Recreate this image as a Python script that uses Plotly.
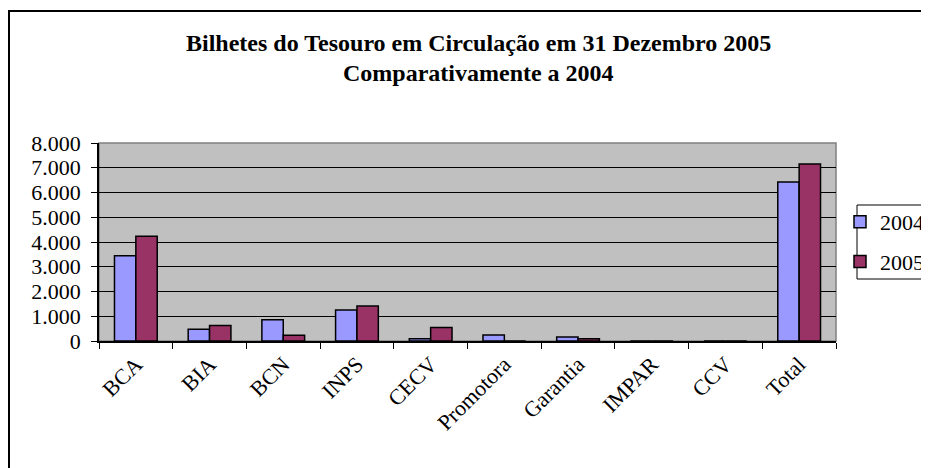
import plotly.graph_objects as go

categories = ["BCA", "BIA", "BCN", "INPS", "CECV", "Promotora", "Garantia", "IMPAR", "CCV", "Total"]
values_2004 = [3440, 470, 860, 1250, 90, 240, 160, 0, 0, 6420]
values_2005 = [4230, 630, 230, 1410, 550, 0, 90, 0, 0, 7150]
series_names = ["2004", "2005"]
title_lines = ["Bilhetes do Tesouro em Circulação em 31 Dezembro 2005", "Comparativamente a 2004"]
y_ticks = [0, 1000, 2000, 3000, 4000, 5000, 6000, 7000, 8000]

FONT = "Liberation Serif"
OFF = 8  # page body margin
W, H = 929 - OFF, 468 - OFF
L, R, T, B = 99 - OFF, 836 - OFF, 143 - OFF, 341 - OFF

fig = go.Figure()
fig.add_trace(go.Bar(x=categories, y=values_2004, name=series_names[0], legendgroup="a",
                     marker=dict(color="#9999FF", line=dict(color="black", width=1.5))))
fig.add_trace(go.Bar(x=categories, y=values_2005, name=series_names[1], legendgroup="b",
                     marker=dict(color="#993366", line=dict(color="black", width=1.5))))

pw, ph = R - L, B - T
def px2x(px):
    return (px - OFF - L) / pw
def py2y(py):
    return (B - (py - OFF)) / ph

# outer chart border (left & top visible)
fig.add_shape(type="rect", xref="paper", yref="paper",
              x0=px2x(9), x1=px2x(960), y0=py2y(500), y1=py2y(11),
              line=dict(color="black", width=2), fillcolor="rgba(0,0,0,0)", layer="below")
# plot area border (gray)
fig.add_shape(type="rect", xref="paper", yref="paper", x0=0, x1=1, y0=0, y1=1,
              line=dict(color="#808080", width=1.5), fillcolor="rgba(0,0,0,0)", layer="below")
# legend frame
fig.add_shape(type="rect", xref="paper", yref="paper",
              x0=px2x(857), x1=px2x(960), y0=py2y(279), y1=py2y(205),
              line=dict(color="black", width=1), fillcolor="white", layer="below")

# title lines
for txt, py in zip(title_lines, [43, 73]):
    fig.add_annotation(text="<b>" + txt + "</b>", xref="paper", yref="paper",
                       x=px2x(478), y=py2y(py), xanchor="center", yanchor="middle",
                       showarrow=False, font=dict(family=FONT, size=24, color="black"))

fig.update_layout(
    width=W, height=H,
    margin=dict(l=L, r=W - R, t=T, b=H - B, pad=0, autoexpand=False),
    paper_bgcolor="white", plot_bgcolor="#C0C0C0",
    separators=",.",
    barmode="group", bargap=0.42, bargroupgap=0,
    font=dict(family=FONT, size=22, color="black"),
    legend=dict(xref="container", yref="container",
                x=(840 - OFF) / W, y=1 - (201 - OFF) / H, xanchor="left", yanchor="top",
                borderwidth=0, bgcolor="rgba(0,0,0,0)",
                font=dict(family=FONT, size=22), tracegroupgap=8),
    xaxis=dict(showline=True, linecolor="black", linewidth=1.5, ticks="outside",
               tickson="boundaries", ticklen=6, tickcolor="black", tickangle=-45,
               showgrid=False, tickfont=dict(family=FONT, size=22)),
    yaxis=dict(range=[0, 8000], tickvals=y_ticks, tickformat=",d",
               showline=True, linecolor="black", linewidth=1.5, ticks="outside",
               ticklen=6, tickcolor="black", showgrid=True, gridcolor="black",
               gridwidth=1, zeroline=False, ticklabelstandoff=6,
               tickfont=dict(family=FONT, size=22)),
)
fig.write_html("out.html")
